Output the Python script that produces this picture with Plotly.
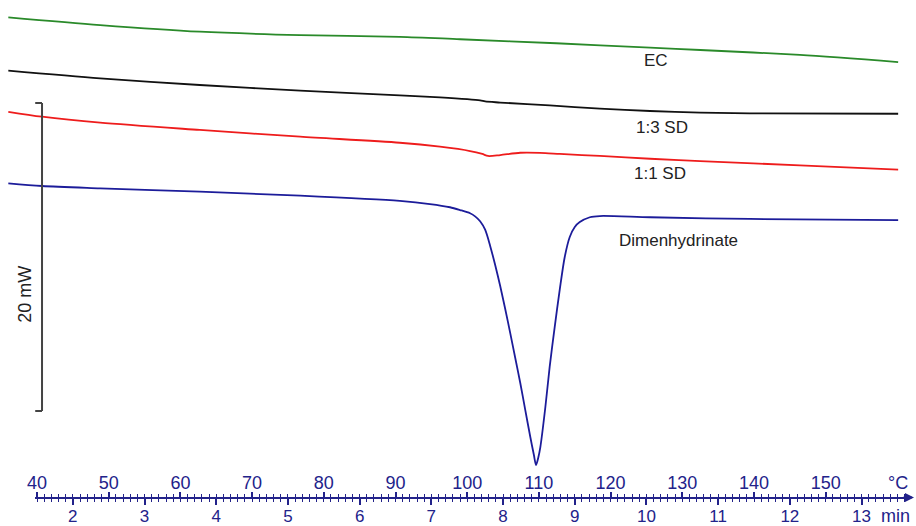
import plotly.graph_objects as go

# ---- data ----
# temperature in deg C, heat flow in mW (curves are vertically offset)
ec_T = [36.0, 48.8, 62.7, 76.7, 90.6, 99.0, 112.4, 125.5, 132.5, 146.4, 160.1]
ec_Q = [31.34, 30.84, 30.41, 30.19, 30.08, 29.92, 29.66, 29.37, 29.22, 28.90, 28.44]

sd13_T = [36.0, 48.8, 62.7, 76.7, 90.6, 96.2, 101.8, 102.5, 104.6, 111.5, 118.5, 125.5, 132.5, 139.4, 160.1]
sd13_Q = [27.88, 27.38, 26.95, 26.58, 26.27, 26.14, 25.95, 25.88, 25.81, 25.62, 25.42, 25.26, 25.16, 25.11, 25.08]

sd11_T = [36.0, 40.7, 48.8, 62.7, 76.7, 90.6, 96.2, 100.4, 102.1, 102.9, 104.6, 107.4, 110.9, 112.9, 118.5, 125.5, 132.5, 146.4, 160.1]
sd11_Q = [25.21, 24.89, 24.50, 24.03, 23.59, 23.20, 22.94, 22.66, 22.47, 22.34, 22.40, 22.55, 22.53, 22.47, 22.34, 22.16, 22.01, 21.73, 21.45]

dim_T = [36.0, 40.7, 48.8, 62.7, 76.7, 90.6, 94.8, 97.6, 99.0, 100.4, 101.1, 101.8, 102.5, 103.2, 103.9,
         104.6, 105.3, 106.0, 106.7, 107.4, 108.1, 108.8, 109.3, 109.6, 109.9, 110.2, 110.9, 111.5,
         112.2, 112.9, 113.6, 114.3, 115.0, 115.7, 117.1, 118.5, 125.5, 139.4, 160.1]
dim_Q = [20.56, 20.39, 20.24, 20.02, 19.76, 19.42, 19.22, 19.01, 18.83, 18.62, 18.42, 18.10, 17.55, 16.50, 15.26,
         13.90, 12.40, 10.84, 9.22, 7.60, 5.84, 4.09, 2.92, 2.27, 2.73, 3.44, 6.04, 8.64,
         11.23, 13.64, 15.78, 17.08, 17.73, 18.05, 18.36, 18.44, 18.36, 18.25, 18.18]

series_names = ["EC", "1:3 SD", "1:1 SD", "Dimenhydrinate"]
series_colors = ["#2a8a2a", "#111111", "#ee1c1c", "#1c1c9a"]

temp_ticks = [40, 50, 60, 70, 80, 90, 100, 110, 120, 130, 140, 150]
time_ticks = [2, 3, 4, 5, 6, 7, 8, 9, 10, 11, 12, 13]

scale_mw = 20  # scale bar height in mW
scale_top = 25.78

# ---- figure ----
NAVY = "#22228a"
T_RANGE = [34.84, 162.59]
Q_RANGE = [-1.688, 32.468]
FONT = "Liberation Sans, Arial"

fig = go.Figure()
for T, Q, name, col in zip([ec_T, sd13_T, sd11_T, dim_T], [ec_Q, sd13_Q, sd11_Q, dim_Q],
                           series_names, series_colors):
    fig.add_trace(go.Scatter(x=T, y=Q, mode="lines", name=name,
                             line=dict(color=col, width=1.8, shape="spline", smoothing=0.8),
                             showlegend=False, hoverinfo="skip"))

# dummy traces to register the bottom temperature / time axes
fig.add_trace(go.Scatter(x=[50], y=[0.5], xaxis="x2", yaxis="y2", mode="markers",
                         marker=dict(opacity=0), showlegend=False, hoverinfo="skip"))
fig.add_trace(go.Scatter(x=[5], y=[0.5], xaxis="x3", yaxis="y2", mode="markers",
                         marker=dict(opacity=0), showlegend=False, hoverinfo="skip"))

# curve labels
label_pos = [(126.3, 28.51), (127.2, 24.19), (126.9, 21.21), (129.4, 16.88)]
for name, (tx, ty) in zip(series_names, label_pos):
    fig.add_annotation(x=tx, y=ty, xref="x", yref="y", text=name, showarrow=False,
                       xanchor="center", yanchor="middle",
                       font=dict(size=17, color="#222222", family=FONT))

# scale bar (20 mW)
x_bar = 40.70
x_tick = 39.75
fig.add_shape(type="line", x0=x_bar, x1=x_bar, y0=scale_top, y1=scale_top - scale_mw,
              xref="x", yref="y", line=dict(color="#444444", width=2))
for yy in [scale_top, scale_top - scale_mw]:
    fig.add_shape(type="line", x0=x_tick, x1=x_bar, y0=yy, y1=yy,
                  xref="x", yref="y", line=dict(color="#444444", width=2))
fig.add_annotation(x=38.3, y=scale_top - scale_mw / 2 - 2.4, xref="x", yref="y",
                   text=f"{scale_mw} mW", textangle=-90, showarrow=False,
                   xanchor="center", yanchor="middle",
                   font=dict(size=18, color="#222222", family=FONT))

axis_y = (526 - 497.5) / 526
dom = [35 / 916, 908 / 916]
t_lo = 34.84 + 35 / 7.17
t_hi = 34.84 + 908 / 7.17

fig.update_layout(
    width=916, height=526,
    margin=dict(l=0, r=0, t=0, b=0, autoexpand=False),
    paper_bgcolor="white", plot_bgcolor="rgba(0,0,0,0)",
    xaxis=dict(range=T_RANGE, visible=False, domain=[0, 1], automargin=False),
    yaxis=dict(range=Q_RANGE, visible=False, domain=[0, 1], automargin=False),
    yaxis2=dict(range=[0, 1], visible=False, domain=[0, 1], anchor="x2", automargin=False),
    xaxis2=dict(range=[t_lo, t_hi], domain=dom, anchor="free", position=axis_y, side="top",
                automargin=False,
                showline=True, linecolor=NAVY, linewidth=1.8, showgrid=False, zeroline=False,
                tickmode="array", tickvals=temp_ticks, ticktext=[str(v) for v in temp_ticks],
                ticks="outside", ticklen=5, tickwidth=1.5, tickcolor=NAVY, ticklabelstandoff=-5,
                minor=dict(dtick=1, ticks="outside", ticklen=3, tickwidth=1.2, tickcolor=NAVY, showgrid=False),
                tickfont=dict(size=18, color=NAVY, family=FONT)),
    xaxis3=dict(range=[(t_lo - 25) / 10, (t_hi - 25) / 10], overlaying="x2", anchor="free",
                position=axis_y, side="bottom", showline=False, showgrid=False, zeroline=False,
                automargin=False,
                tickmode="array", tickvals=time_ticks, ticktext=[str(v) for v in time_ticks],
                ticks="outside", ticklen=6, tickwidth=1.5, tickcolor=NAVY, ticklabelstandoff=-3,
                minor=dict(dtick=0.1, ticks="outside", ticklen=3, tickwidth=1.2, tickcolor=NAVY, showgrid=False),
                tickfont=dict(size=17, color=NAVY, family=FONT)),
)

# axis arrow and unit labels
fig.add_annotation(x=914 / 916, y=axis_y, ax=-12, ay=0, xref="paper", yref="paper",
                   axref="pixel", ayref="pixel", text="", showarrow=True, arrowhead=2,
                   arrowsize=1, arrowwidth=1.8, arrowcolor=NAVY)
fig.add_annotation(x=898 / 916, y=(526 - 483) / 526, xref="paper", yref="paper", text="°C",
                   xanchor="center", yanchor="middle",
                   showarrow=False, font=dict(size=18, color=NAVY, family=FONT))
fig.add_annotation(x=895 / 916, y=(526 - 516) / 526, xref="paper", yref="paper", text="min",
                   xanchor="center", yanchor="middle",
                   showarrow=False, font=dict(size=18, color=NAVY, family=FONT))

fig.write_html("out.html")
